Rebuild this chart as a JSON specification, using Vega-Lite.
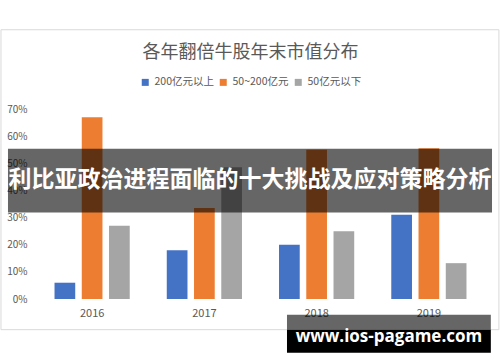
{
  "$schema": "https://vega.github.io/schema/vega-lite/v6.json",
  "width": 449,
  "height": 190,
  "autosize": {"type": "none"},
  "padding": {"left": 36, "top": 109, "right": 15, "bottom": 63},
  "background": "white",
  "title": {
    "text": "各年翻倍牛股年末市值分布",
    "font": "Noto Sans CJK SC",
    "fontSize": 18,
    "fontWeight": "normal",
    "color": "#595959",
    "anchor": "middle",
    "dx": -10,
    "offset": -33
  },
  "datasets": {
    "bars": [
      {"year": "2016", "category": "200亿元以上", "value": 0.06},
      {"year": "2016", "category": "50~200亿元", "value": 0.67},
      {"year": "2016", "category": "50亿元以下", "value": 0.27},
      {"year": "2017", "category": "200亿元以上", "value": 0.18},
      {"year": "2017", "category": "50~200亿元", "value": 0.335},
      {"year": "2017", "category": "50亿元以下", "value": 0.485},
      {"year": "2018", "category": "200亿元以上", "value": 0.20},
      {"year": "2018", "category": "50~200亿元", "value": 0.55},
      {"year": "2018", "category": "50亿元以下", "value": 0.25},
      {"year": "2019", "category": "200亿元以上", "value": 0.31},
      {"year": "2019", "category": "50~200亿元", "value": 0.555},
      {"year": "2019", "category": "50亿元以下", "value": 0.132}
    ],
    "frame": [{"x0": -0.078, "x1": 1.031, "y0": 0.992, "y1": -0.113}],
    "banner": [{"x0": -0.0624, "x1": 1.0156, "y0": 0.554, "y1": 0.319, "xc": 0.4766, "yc": 0.437, "label": "利比亚政治进程面临的十大挑战及应对策略分析"}],
    "wmTop": [{"x0": 0.559, "x1": 1.013, "y0": -0.058, "y1": -0.113}],
    "wmBottom": [{"x0": 0.559, "x1": 1.013, "y0": -0.113, "y1": -0.198, "xc": 0.786, "yc": -0.139, "label": "www.ios-pagame.com"}]
  },
  "layer": [
    {
      "data": {"name": "frame"},
      "mark": {"type": "rect", "fill": null, "fillOpacity": 0, "stroke": "#d9d9d9", "strokeWidth": 1},
      "encoding": {
        "x": {"field": "x0", "type": "quantitative", "scale": {"domain": [0, 1], "nice": false, "zero": false}, "axis": null},
        "x2": {"field": "x1"},
        "y": {"field": "y0", "type": "quantitative", "scale": {"domain": [0, 0.7], "nice": false}, "axis": null},
        "y2": {"field": "y1"}
      }
    },
    {
      "data": {"name": "bars"},
      "mark": {"type": "bar"},
      "encoding": {
        "x": {
          "field": "year", "type": "nominal",
          "scale": {"paddingInner": 0.33, "paddingOuter": 0.165},
          "axis": {"title": null, "labelAngle": 0, "ticks": false, "domain": false, "labelPadding": 8, "labelFontSize": 11, "labelColor": "#595959", "labelFont": "Noto Sans CJK SC"}
        },
        "xOffset": {"field": "category", "type": "nominal", "sort": ["200亿元以上", "50~200亿元", "50亿元以下"], "scale": {"paddingInner": 0.24, "paddingOuter": 0}},
        "y": {
          "field": "value", "type": "quantitative",
          "scale": {"domain": [0, 0.7], "nice": false},
          "axis": {"title": null, "values": [0, 0.1, 0.2, 0.3, 0.4, 0.5, 0.6, 0.7], "format": ".0%", "ticks": false, "domain": false, "labelPadding": 9, "labelFontSize": 10, "labelColor": "#595959", "gridColor": "#d9d9d9", "labelFont": "Noto Sans CJK SC"}
        },
        "color": {
          "field": "category", "type": "nominal",
          "sort": ["200亿元以上", "50~200亿元", "50亿元以下"],
          "scale": {"domain": ["200亿元以上", "50~200亿元", "50亿元以下"], "range": ["#4472c4", "#ed7d31", "#a5a5a5"]},
          "legend": {"title": null, "orient": "none", "direction": "horizontal", "legendX": 104, "legendY": -32, "symbolType": "square", "symbolSize": 49, "labelFontSize": 10.5, "labelColor": "#595959", "labelFont": "Noto Sans CJK SC", "columnPadding": 4, "labelOffset": 4, "symbolOffset": 0}
        }
      }
    },
    {
      "data": {"name": "banner"},
      "mark": {"type": "rect", "fill": "black", "fillOpacity": 0.6},
      "encoding": {
        "x": {"field": "x0", "type": "quantitative", "scale": {"domain": [0, 1], "nice": false, "zero": false}, "axis": null},
        "x2": {"field": "x1"},
        "y": {"field": "y0", "type": "quantitative", "scale": {"domain": [0, 0.7], "nice": false}, "axis": null},
        "y2": {"field": "y1"}
      }
    },
    {
      "data": {"name": "banner"},
      "mark": {"type": "text", "color": "white", "font": "Noto Sans CJK SC", "fontSize": 23, "fontWeight": "bold", "align": "center", "baseline": "middle"},
      "encoding": {
        "x": {"field": "xc", "type": "quantitative", "scale": {"domain": [0, 1], "nice": false, "zero": false}, "axis": null},
        "y": {"field": "yc", "type": "quantitative", "scale": {"domain": [0, 0.7], "nice": false}, "axis": null},
        "text": {"field": "label"}
      }
    },
    {
      "data": {"name": "wmTop"},
      "mark": {"type": "rect", "fill": "black", "fillOpacity": 0.6},
      "encoding": {
        "x": {"field": "x0", "type": "quantitative", "scale": {"domain": [0, 1], "nice": false, "zero": false}, "axis": null},
        "x2": {"field": "x1"},
        "y": {"field": "y0", "type": "quantitative", "scale": {"domain": [0, 0.7], "nice": false}, "axis": null},
        "y2": {"field": "y1"}
      }
    },
    {
      "data": {"name": "wmBottom"},
      "mark": {"type": "rect", "fill": "black"},
      "encoding": {
        "x": {"field": "x0", "type": "quantitative", "scale": {"domain": [0, 1], "nice": false, "zero": false}, "axis": null},
        "x2": {"field": "x1"},
        "y": {"field": "y0", "type": "quantitative", "scale": {"domain": [0, 0.7], "nice": false}, "axis": null},
        "y2": {"field": "y1"}
      }
    },
    {
      "data": {"name": "wmBottom"},
      "mark": {"type": "text", "color": "white", "font": "Open Sans", "fontSize": 17, "fontWeight": "bold", "align": "center", "baseline": "middle"},
      "encoding": {
        "x": {"field": "xc", "type": "quantitative", "scale": {"domain": [0, 1], "nice": false, "zero": false}, "axis": null},
        "y": {"field": "yc", "type": "quantitative", "scale": {"domain": [0, 0.7], "nice": false}, "axis": null},
        "text": {"field": "label"}
      }
    }
  ],
  "resolve": {"scale": {"x": "independent", "y": "independent", "color": "independent"}},
  "config": {"view": {"stroke": null}}
}
